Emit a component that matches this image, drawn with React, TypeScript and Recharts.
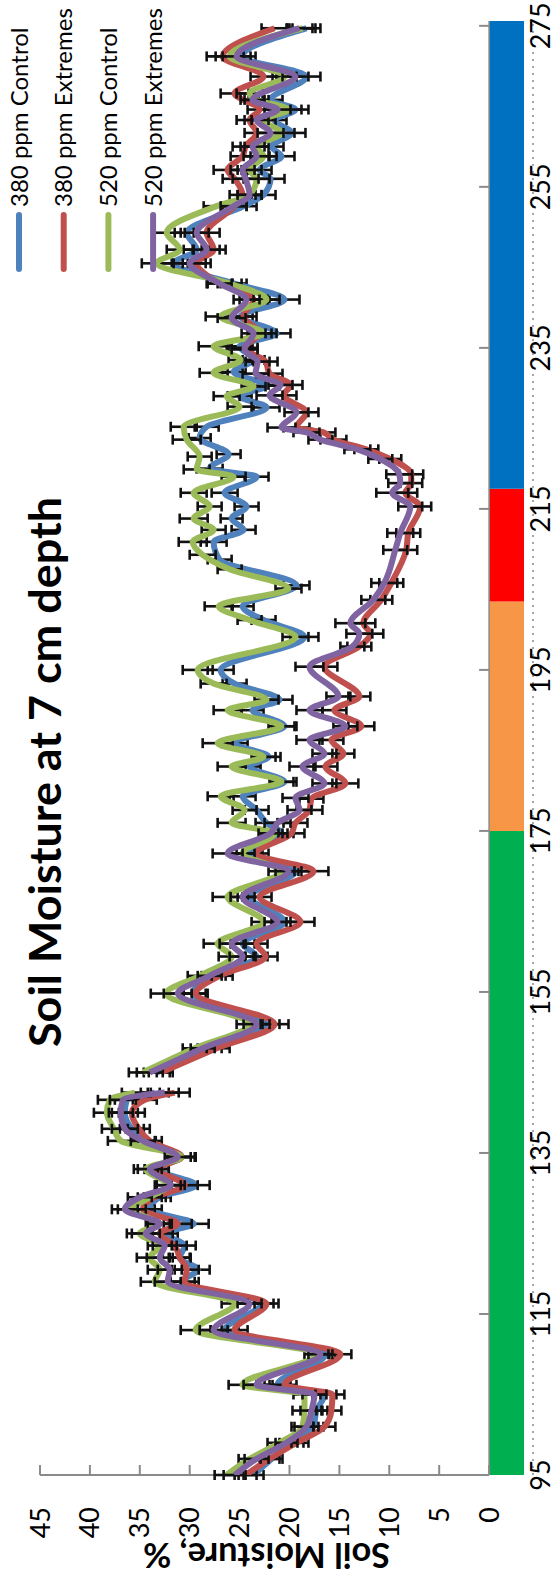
import React from 'react';
import { LineChart, Line, XAxis, YAxis, ErrorBar, ReferenceArea, ReferenceLine, Legend } from 'recharts';

const FONT = "Lato, 'Open Sans', sans-serif";

const dayTicks = [95, 115, 135, 155, 175, 195, 215, 235, 255, 275];
const moistureTicks = [0, 5, 10, 15, 20, 25, 30, 35, 40, 45];

// growing periods shown in the strip under the plot (day boundaries)
const periodBounds = [95, 175, 203.5, 217.5, 275.6];
const periodColors = ['#00b050', '#f79646', '#ff0000', '#0070c0'];

// [day of year, soil moisture %, error] ; null = missing day
const ctrl380 = [
  [95, 23.6, 1.0], [97, 21.8, 1.1], [99, 19.8, 1.2], [101, 17.6, 1.0], [103, 17.3, 1.1], [105, 16.5, 1.2],
  [106.2, 21.2, 1.3], [110, 16.4, 1.0], [113, 26.5, 1.4], [116.3, 22.8, 1.2], [119, 30.8, 1.3], [120.5, 29.2, 1.2],
  [122, 31.0, 1.0], [123.5, 30.5, 1.1], [125, 32.5, 1.3], [126.2, 29.6, 1.5], [128, 34.0, 1.2], [129.5, 33.0, 1.1],
  [131, 29.4, 1.4], [133, 33.3, 1.2], [134.5, 30.8, 1.3], [136.5, 34.5, 1.1], [138, 35.8, 1.2], [140, 36.5, 1.3],
  [141.6, 36.3, 1.2], [142.5, 33.5, 1.4], [144, null, null], [145, 33.3, 1.3], [148, 28.0, 1.2], [151, 22.4, 1.4],
  [154.8, 29.7, 1.3], [157, 27.6, 1.2], [159.4, 23.3, 1.1], [161, 24.7, 1.2], [163.7, 20.5, 1.3], [166.8, 24.0, 1.2],
  [170, 19.4, 1.4], [172.2, 24.0, 1.3], [174.7, 20.8, 1.2], [176, 22.3, 1.1], [177.6, 23.3, 1.2], [179.3, 24.7, 1.3],
  [181.1, 20.5, 1.2], [183, 24.0, 1.1], [184.2, 22.1, 1.2], [185.9, 25.5, 1.3], [188, 20.5, 1.2], [190, 23.7, 1.1],
  [191.3, 21.0, 1.3], [193.3, 25.5, 1.2], [195, 26.9, 1.3], [199.1, 18.5, 1.4], [201.2, 22.6, 1.2], [202.9, 24.7, 1.1],
  [205.5, 19.3, 1.3], [208.7, 27.0, 1.2], [210.9, 27.6, 1.3], [212.4, 24.6, 1.2], [213.8, 25.8, 1.1], [215.3, 24.3, 1.2],
  [217, 26.5, 1.3], [219, 23.3, 1.2], [220, 28.0, 1.3], [221.8, 26.1, 1.2], [223.8, 29.0, 1.1], [225.2, 28.3, 1.2],
  [227.6, 22.3, 1.3], [229, 25.0, 1.2], [230.3, 22.3, 1.3], [232, 25.6, 1.2], [233.5, 23.6, 1.1], [235.2, 25.0, 1.3],
  [236.8, 21.3, 1.4], [238.9, 24.9, 1.2], [241, 20.5, 1.5], [243, 25.6, 1.3], [245.5, 31.6, 1.4], [247.2, 29.3, 1.3],
  [249.3, 30.3, 1.2], [252.6, 24.6, 1.3], [254, 22.6, 1.2], [256, 21.9, 1.4], [257.1, 23.0, 1.2], [258.8, 20.8, 1.3],
  [260, 21.8, 1.2], [261.7, 19.8, 1.4], [263.3, 21.5, 1.2], [264.6, 19.4, 1.3], [265.8, 21.9, 1.2], [268.7, 18.3, 1.4],
  [271.2, 24.7, 1.3], [274.7, 18.3, 1.4],
];

const ext380 = [
  [95, 24.4, 1.1], [97, 22.0, 1.0], [99, 19.3, 1.2], [101, 16.5, 1.1], [103, 15.8, 1.0], [105, 15.7, 1.2],
  [106.2, 20.5, 1.2], [110, 14.9, 1.1], [113, 25.5, 1.3], [116.3, 22.3, 1.2], [119, 30.5, 1.4], [120.5, 30.3, 1.2],
  [122, 31.0, 1.1], [123.5, 31.5, 1.2], [125, 33.0, 1.3], [126.2, 31.2, 1.4], [128, 34.7, 1.2], [129.5, 33.5, 1.1],
  [131, 30.5, 1.3], [133, 33.3, 1.2], [134.5, 30.8, 1.4], [136.5, 34.0, 1.2], [138, 35.1, 1.1], [140, 35.8, 1.3],
  [141.6, 34.5, 1.2], [142.5, 31.5, 1.5], [144, null, null], [145, 32.9, 1.2], [148, 27.3, 1.3], [151, 21.5, 1.4],
  [154.8, 29.4, 1.2], [157, 27.0, 1.3], [159.4, 22.4, 1.2], [161, 23.3, 1.1], [163.7, 18.9, 1.4], [166.8, 23.0, 1.2],
  [170, 17.6, 1.5], [172.2, 23.3, 1.2], [174.7, 19.8, 1.3], [176, 19.4, 1.2], [177.6, 18.0, 1.3], [179, 17.8, 1.2],
  [180.9, 14.4, 1.3], [183, 16.4, 1.2], [184.6, 14.6, 1.1], [186.3, 15.8, 1.2], [188, 12.8, 1.3], [190, 15.5, 1.2],
  [191.7, 13.0, 1.1], [195.4, 16.5, 1.3], [197.9, 13.0, 1.2], [199.5, 11.9, 1.3], [200.8, 12.6, 1.2], [203.7, 10.8, 1.1],
  [205.8, 9.8, 1.2], [209.9, 8.3, 1.1], [212, 8.1, 1.2], [215.3, 6.9, 1.1], [217, 8.4, 1.2], [218.2, 7.8, 1.1],
  [219.3, 7.8, 1.2], [221.2, 9.9, 1.1], [222.4, 12.3, 1.2], [223.6, 15.6, 1.3], [224.5, 16.6, 1.2], [225.1, 19.3, 1.3],
  [227, 18.3, 1.2], [229.1, 20.6, 1.3], [230.4, 19.9, 1.2], [231.8, 22.0, 1.3], [233.3, 22.4, 1.2], [235, 24.5, 1.3],
  [236.8, 23.0, 1.2], [238.9, 24.6, 1.3], [241, 23.6, 1.4], [243, 27.0, 1.3], [245.5, 29.3, 1.4], [247.2, 27.6, 1.2],
  [249.3, 28.3, 1.3], [252.6, 25.5, 1.2], [254, 24.7, 1.3], [256, 25.5, 1.2], [257.1, 26.2, 1.4], [258.8, 24.7, 1.2],
  [260, 24.4, 1.3], [261.7, 23.3, 1.2], [263.3, 24.0, 1.3], [264.6, 23.0, 1.2], [266.6, 25.5, 1.4], [268.7, 22.6, 1.3],
  [271.2, 26.7, 1.6], [274.7, 21.5, 1.3],
];

const ctrl520 = [
  [95, 26.3, 1.2], [97, 24.0, 1.1], [99, 21.0, 1.2], [101, 18.7, 1.1], [103, 18.5, 1.2], [105, 18.5, 1.1],
  [106.2, 24.7, 1.4], [110, 17.3, 1.2], [113, 29.4, 1.5], [116.3, 25.5, 1.3], [119, 33.5, 1.4], [120.5, 33.0, 1.2],
  [122, 34.0, 1.3], [123.5, 33.0, 1.2], [125, 35.0, 1.3], [126.2, 33.2, 1.2], [128, 35.8, 1.4], [129.5, 34.0, 1.2],
  [131, 32.2, 1.3], [133, 34.4, 1.2], [134.5, 30.8, 1.4], [136.5, 36.9, 1.3], [138, 37.6, 1.2], [140, 38.3, 1.3],
  [141.6, 38.0, 1.2], [142.5, 35.5, 1.3], [144, null, null], [145, 34.7, 1.4], [148, 29.5, 1.2], [151, 24.0, 1.3],
  [154.8, 32.4, 1.5], [157, 29.0, 1.2], [159.4, 25.8, 1.3], [161, 27.2, 1.4], [163.7, 22.6, 1.2], [166.8, 26.2, 1.5],
  [170, 20.8, 1.3], [172.2, 24.7, 1.2], [174.7, 21.5, 1.3], [176, 25.8, 1.4], [177.6, 24.5, 1.2], [179.3, 26.9, 1.3],
  [181.1, 20.8, 1.2], [183, 25.8, 1.4], [184.2, 22.6, 1.2], [185.9, 27.2, 1.5], [188, 20.8, 1.3], [190, 26.2, 1.4],
  [191.3, 22.3, 1.2], [193.3, 27.6, 1.3], [195, 29.2, 1.5], [199.1, 19.4, 1.3], [201.2, 24.0, 1.2], [202.9, 27.1, 1.4],
  [205.1, 20.1, 1.3], [207.5, 26.0, 1.2], [209.3, 28.7, 1.3], [210.9, 29.7, 1.4], [212.4, 27.6, 1.2], [213.8, 29.6, 1.4],
  [215.3, 28.0, 1.2], [217, 29.6, 1.3], [219, 25.6, 1.2], [219.9, 29.3, 1.3], [221.5, 29.0, 1.2], [223.6, 30.3, 1.4],
  [225.2, 30.6, 1.3], [227.7, 25.0, 1.2], [229, 26.3, 1.3], [230.2, 23.6, 1.2], [231.9, 27.6, 1.4], [233.5, 24.9, 1.2],
  [235.2, 27.6, 1.5], [236.8, 22.6, 1.3], [238.9, 26.9, 1.5], [241, 22.3, 1.3], [243, 26.0, 1.2], [245.5, 33.3, 1.5],
  [247.2, 31.0, 1.3], [249.3, 32.3, 1.4], [252.6, 27.3, 1.3], [254, 24.0, 1.2], [256, 23.3, 1.3], [257.1, 24.0, 1.2],
  [258.8, 22.6, 1.3], [260, 23.3, 1.2], [261.7, 20.8, 1.3], [263.3, 22.6, 1.2], [264.6, 20.1, 1.3], [265.8, 23.3, 1.2],
  [266.6, 24.0, 1.3], [268.7, 20.5, 1.2], [271.2, 26.0, 1.4], [274.7, 18.7, 1.3],
];

const ext520 = [
  [95, 25.5, 1.1], [97, 23.3, 1.2], [99, 20.3, 1.1], [101, 18.3, 1.2], [103, 17.8, 1.1], [105, 17.5, 1.2],
  [106.2, 23.3, 1.3], [110, 16.9, 1.2], [113, 27.6, 1.4], [116.3, 24.0, 1.2], [119, 32.2, 1.3], [120.5, 32.0, 1.2],
  [122, 33.0, 1.3], [123.5, 32.5, 1.2], [125, 34.4, 1.4], [126.2, 33.0, 1.2], [128, 36.5, 1.3], [129.5, 35.0, 1.2],
  [131, 31.9, 1.4], [133, 34.0, 1.2], [134.5, 31.2, 1.3], [136.5, 34.7, 1.2], [138, 36.5, 1.3], [140, 36.9, 1.2],
  [141.6, 36.7, 1.3], [142.5, 32.5, 1.4], [144, null, null], [145, 34.0, 1.3], [148, 28.7, 1.2], [151, 23.3, 1.3],
  [154.8, 31.2, 1.4], [157, 28.0, 1.2], [159.4, 24.7, 1.3], [161, 25.8, 1.2], [163.7, 21.2, 1.3], [166.8, 24.7, 1.2],
  [170, 20.1, 1.3], [172.2, 26.2, 1.5], [174.7, 21.9, 1.2], [176, 21.2, 1.3], [177.6, 19.0, 1.2], [179.1, 19.4, 1.3],
  [180.9, 16.5, 1.2], [183, 18.7, 1.3], [184.6, 16.5, 1.2], [186.3, 18.0, 1.3], [188, 14.4, 1.2], [190, 18.0, 1.3],
  [191.7, 15.1, 1.2], [195.4, 18.0, 1.4], [197.9, 13.7, 1.2], [199.5, 13.0, 1.3], [200.8, 13.9, 1.5], [203.7, 11.6, 1.2],
  [205.8, 10.5, 1.3], [209.9, 9.4, 1.2], [212, 8.9, 1.3], [215.3, 7.9, 1.2], [217, 9.7, 1.6], [218.2, 8.9, 1.2],
  [219.3, 9.0, 1.3], [221.2, 10.9, 1.2], [222.4, 13.2, 1.3], [223.6, 16.9, 1.2], [224.5, 18.3, 1.3], [225.1, 20.8, 1.4],
  [227, 19.3, 1.2], [229.1, 22.0, 1.3], [230.4, 20.9, 1.2], [231.8, 23.4, 1.3], [233.3, 23.2, 1.2], [234.8, 24.5, 1.3],
  [236.8, 23.6, 1.2], [238.7, 25.8, 1.4], [241, 24.3, 1.3], [243, 27.0, 1.2], [245.5, 30.0, 1.6], [247.2, 28.3, 1.3],
  [249.3, 29.3, 1.2], [252.6, 25.6, 1.3], [254, 24.0, 1.2], [256, 24.4, 1.3], [257.1, 24.7, 1.2], [258.8, 23.3, 1.3],
  [260, 23.7, 1.2], [261.7, 21.9, 1.3], [263.3, 23.3, 1.2], [264.6, 21.2, 1.3], [265.8, 23.7, 1.2], [268.7, 19.4, 1.3],
  [271.2, 25.3, 1.4], [274.7, 19.0, 1.3],
];

const series = [
  { name: '380 ppm Control', points: ctrl380, color: '#4f81bd' },
  { name: '380 ppm Extremes', points: ext380, color: '#c0504d' },
  { name: '520 ppm Control', points: ctrl520, color: '#9bbb59' },
  { name: '520 ppm Extremes', points: ext520, color: '#8064a2' },
];

const toRows = (pts: (number | null)[][]) => pts.map(([day, v, e]) => ({ day, v, e }));

const AXIS_GREY = '#8a8a8a';

const renderLegend = ({ payload }: any) => (
  <svg width={284} height={180}>
    {(payload || []).map((p: any, i: number) => {
      const cy = 19 + i * 44.7;
      return (
        <g key={p.value}>
          <line x1={15} x2={69} y1={cy} y2={cy} stroke={p.color} strokeWidth={6} strokeLinecap="round" />
          <text x={77} y={cy + 8.5} fontSize={24} fill="#000" fontFamily={FONT}>{p.value}</text>
        </g>
      );
    })}
  </svg>
);

export default function App() {
  return (
    <div style={{ position: 'absolute', left: 0, top: 0, width: 557, height: 1584, overflow: 'hidden', background: '#fff' }}>
      <div
        style={{
          position: 'absolute', left: 0, top: 0, width: 1584, height: 557,
          transformOrigin: '0 0', transform: 'translate(0px, 1584px) rotate(-90deg)', fontFamily: FONT,
        }}
      >
        <LineChart width={1584} height={557} margin={{ top: 40, right: 21, bottom: 0, left: 0 }}>
          <XAxis
            dataKey="day" type="number" domain={[95, 275.6]} ticks={dayTicks} interval={0} allowDataOverflow
            height={24} tickLine={false} tickSize={0} tickMargin={-2}
            axisLine={{ stroke: AXIS_GREY, strokeDasharray: '2 5', strokeWidth: 1.5 }}
            tick={{ fontSize: 27, fill: '#000', fontFamily: FONT }}
          />
          <YAxis
            type="number" domain={[-4.4, 45]} ticks={moistureTicks} interval={0} allowDataOverflow
            width={109} axisLine={false} tickLine={false} tickSize={0} tickMargin={32}
            tick={{ fontSize: 27, fill: '#000', fontFamily: FONT }}
          />
          {periodColors.map((c, i) => (
            <ReferenceArea key={c} x1={periodBounds[i]} x2={periodBounds[i + 1]} y1={-3.5} y2={0} fill={c} fillOpacity={1} stroke="none" />
          ))}
          <ReferenceLine y={0} stroke={AXIS_GREY} strokeWidth={1.5} />
          <ReferenceLine segment={[{ x: 95, y: 0 }, { x: 95, y: 45 }]} stroke={AXIS_GREY} strokeWidth={2} />
          {moistureTicks.map((v) => (
            <ReferenceLine key={'yt' + v} segment={[{ x: 95, y: v }, { x: 96.24, y: v }]} stroke={AXIS_GREY} strokeWidth={2} />
          ))}
          {dayTicks.map((d) => (
            <ReferenceLine key={'xt' + d} segment={[{ x: d, y: 0 }, { x: d, y: 1 }]} stroke={AXIS_GREY} strokeWidth={2} />
          ))}
          {series.map((s) => (
            <Line
              key={s.name} name={s.name} data={toRows(s.points)} dataKey="v" type="monotone"
              stroke={s.color} strokeWidth={6} dot={false} activeDot={false} isAnimationActive={false}
            >
              <ErrorBar dataKey="e" width={5} stroke="#111" strokeWidth={2.6} direction="y" />
            </Line>
          ))}
          <Legend
            layout="vertical" align="center" verticalAlign="middle" content={renderLegend}
            wrapperStyle={{ left: 1300, top: 0, width: 284, height: 180 }}
          />
        </LineChart>
        <svg width={1584} height={557} style={{ position: 'absolute', left: 0, top: 0, pointerEvents: 'none' }}>
          <text x={537} y={60.5} fontSize={44} fontWeight={700} fill="#000" fontFamily={FONT} textLength={550} lengthAdjust="spacingAndGlyphs">
            Soil Moisture at 7 cm depth
          </text>
          <text
            x={41} y={266.5} fontSize={34} fontWeight={700} fill="#000" fontFamily={FONT} textAnchor="middle"
            textLength={247} lengthAdjust="spacingAndGlyphs" transform="rotate(-90 41 266.5)"
          >
            Soil Moisture, %
          </text>
        </svg>
      </div>
    </div>
  );
}
